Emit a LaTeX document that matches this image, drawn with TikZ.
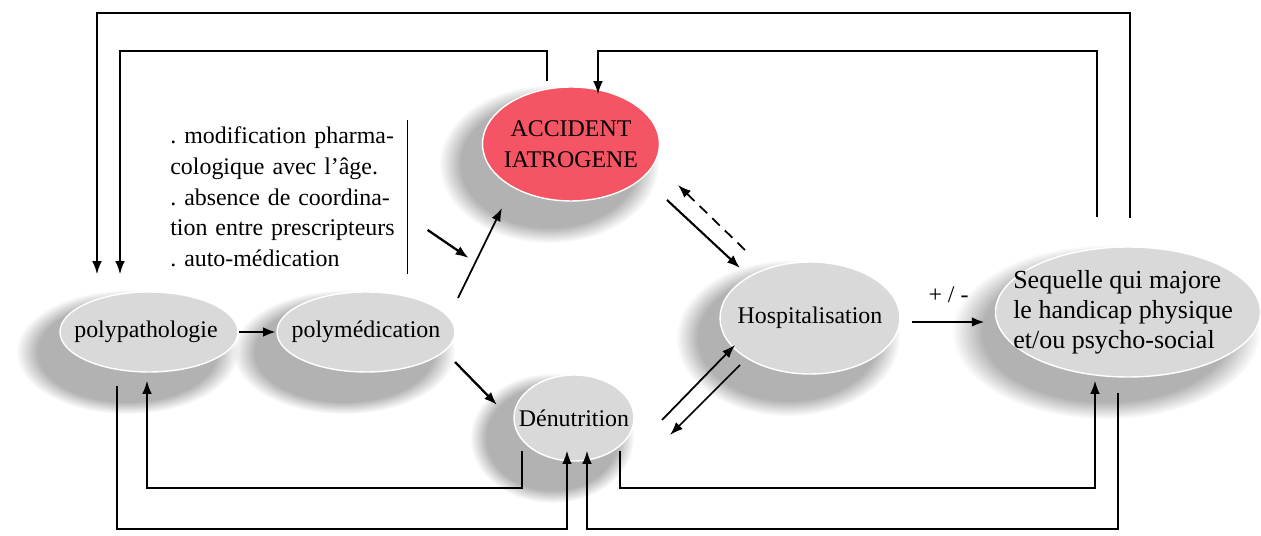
\documentclass[tikz,border=0pt]{standalone}
\usepackage{fontspec}
\setmainfont{Liberation Serif}
\usepackage{xcolor}
\usetikzlibrary{shapes.geometric,fadings,arrows.meta}
\definecolor{rouge}{RGB}{244,84,100}
\tikzset{>={Latex[length=7.5pt,width=5.5pt]}}
% ombre floue sous une bulle: x, y, rayon x, rayon y
\newcommand{\ombre}[4]{\fill[black,opacity=0.3,path fading=circle with fuzzy edge 20 percent]
	(#1-22,#2+20) ellipse [x radius={(#3+22)*0.02cm}, y radius={(#4+22)*0.02cm}];}

\begin{document}
\frenchspacing
\begin{tikzpicture}[x=0.02cm,y=-0.02cm,font=\fontsize{13.6}{17.5}\selectfont,
	bulle/.style={ellipse,inner sep=0pt,fill=gray!30,draw=white,line width=0.8pt},
	fil/.style={line width=1pt,->},
	gros/.style={line width=1.7pt,->}]
		\useasboundingbox (0,0) rectangle (1261,536);
		% les bulles
		\ombre{1128}{312}{132}{65}
		\node[bulle,minimum width=5.3cm,minimum height=2.6cm,
			label={[align=left,xshift=-0.1cm,font=\fontsize{14.8}{17}\selectfont]center:Sequelle qui majore\\le handicap physique\\et/ou psycho-social}] (seq) at (1128,312) {};
		\ombre{810}{318}{90}{56}
		\node[bulle,minimum width=3.6cm,minimum height=2.24cm,label=center:Hospitalisation] (hosp) at (810,318) {};
		\ombre{571}{144}{88}{57}
		\node[bulle,fill=rouge,minimum width=3.54cm,minimum height=2.28cm,
			label={[align=center]center:ACCIDENT\\IATROGENE}] (acc) at (571,144) {};
		\ombre{574}{418}{60}{43}
		\node[bulle,minimum width=2.4cm,minimum height=1.72cm,label=center:D\'enutrition] (den) at (574,418) {};
		\ombre{366}{332}{89}{40}
		\node[bulle,minimum width=3.56cm,minimum height=1.6cm,label=center:polym\'edication] (pm) at (366,332) {};
		\ombre{149}{332}{89}{40}
		\node[bulle,minimum width=3.56cm,minimum height=1.6cm,label={[xshift=-0.06cm]center:polypathologie}] (pp) at (149,332) {};
		% les causes
		\node[anchor=west,align=left,text width=4.74cm,inner xsep=0pt,inner ysep=4pt] (txt) at (170,197)
			{. modification pharma-\\cologique avec l'\^age.\\. absence de coordina-\\tion entre prescripteurs\\. auto-m\'edication};
		\draw[line width=0.8pt] (txt.north east) -- (txt.south east);
		\draw[->,line width=1.3pt] ([shift={(20,33)}]txt.east) -- ++(41,28);
		% fleches du milieu
		\draw[gros] (pp) -- (pm);
		\draw[fil] ([shift={(92,-34)}]pm.center) -- ([shift={(-69,64)}]acc.center);
		\draw[->,line width=1.3pt] ([shift={(89,30)}]pm.center) -- ([shift={(-77,-13)}]den.center);
		\draw[->,line width=1.2pt] ([shift={(96,56)}]acc.center) -- ([shift={(-70,-50)}]hosp.center);
		\draw[fil,dash pattern=on 6pt off 4pt] ([shift={(-65,-68)}]hosp.center) -- ([shift={(107,41)}]acc.center);
		\draw[fil] ([shift={(88,2)}]den.center) -- ([shift={(-75,27)}]hosp.center);
		\draw[fil] ([shift={(-70,47)}]hosp.center) -- ([shift={(96,17)}]den.center);
		\draw[gros] ([shift={(102,4)}]hosp.center) -- ([shift={(-143,10)}]seq.center) node[midway,above=7pt] {+ / -};
		% retours par le haut
		\draw[fil] ([shift={(2,-28)}]seq.north) -- ++(0,-205) -| ([shift={(-52,-17)}]pp.north);
		\draw[fil] ([shift={(-24,-5)}]acc.north) -- ++(0,-30) -| ([shift={(-29,-17)}]pp.north);
		\draw[fil] ([shift={(-31,-29)}]seq.north) -- ++(0,-166) -| ([shift={(27,8)}]acc.north);
		% retours par le bas
		\draw[fil] ([shift={(-32,13)}]pp.south) -- ++(0,143) -| ([shift={(-7,-11)}]den.south);
		\draw[fil] ([shift={(-52,-11)}]den.south) -- ++(0,37) -| ([shift={(-2,8)}]pp.south);
		\draw[fil] ([shift={(-10,15)}]seq.south) -- ++(0,136) -| ([shift={(13,-11)}]den.south);
		\draw[fil] ([shift={(46,-11)}]den.south) -- ++(0,37) -| ([shift={(-33,3)}]seq.south);
\end{tikzpicture}
\end{document}
